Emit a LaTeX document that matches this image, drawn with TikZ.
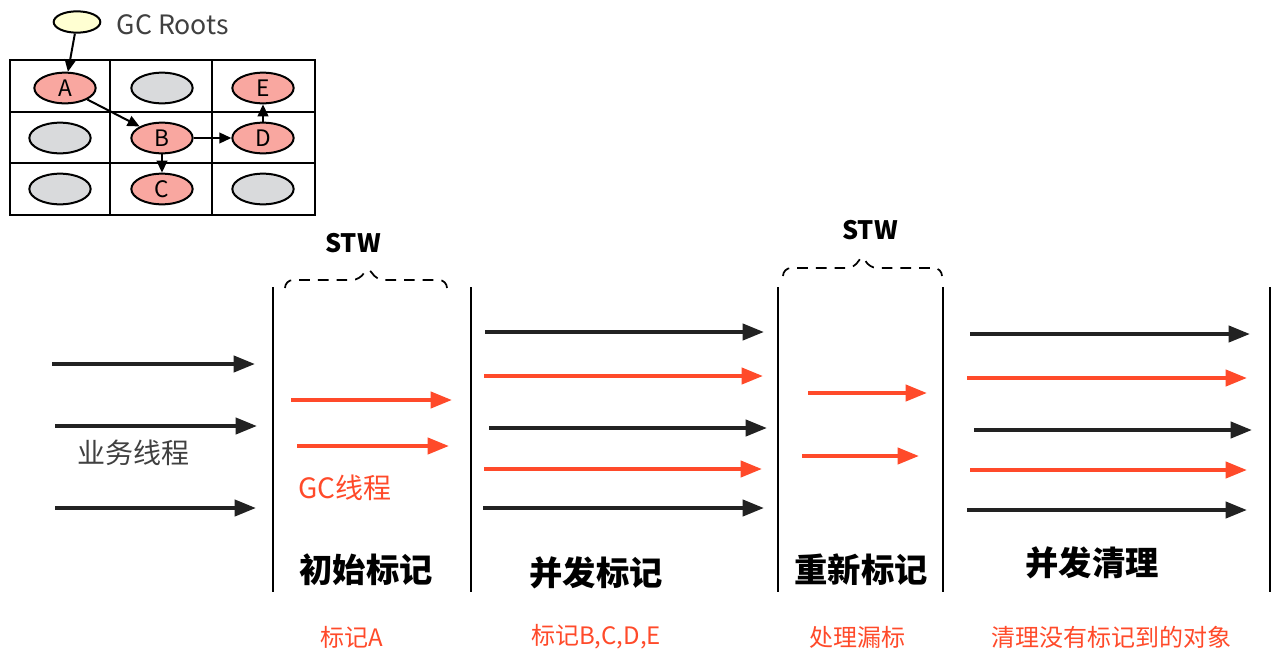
\documentclass[tikz,border=0pt]{standalone}
\usepackage{fontspec}
\setmainfont{Noto Sans CJK SC}
\usetikzlibrary{arrows.meta,shapes.geometric}
\definecolor{gc red}{HTML}{FF4A2A}
\definecolor{work black}{HTML}{222222}
\definecolor{obj red}{HTML}{F9A7A0}
\definecolor{obj gray}{HTML}{D9DADC}
\definecolor{root yellow}{HTML}{FFFFD2}
\tikzset{
    x={0.75pt},
    y={-0.75pt},
    object/.style={
        ellipse, draw=black, line width={1.5pt},
        minimum width={46pt}, minimum height={23pt},
        inner sep=0pt, font={\fontsize{17}{17}\selectfont},
    },
    live object/.style={object, fill=obj red},
    dead object/.style={object, fill=obj gray},
    ref/.style={draw=black, line width={1.5pt}, -{Triangle[length=9pt,width=8pt]}},
    thread/.style={
        draw={#1},
        line width={3pt},
        -{Triangle[length=16pt,width=12pt]},
    },
    phase border/.style={draw=black, line width={1.5pt}},
    pause brace/.style={draw=black, line width={1.3pt}, dash pattern=on 8pt off 6pt, rounded corners=6pt},
    phase title/.style={font={\fontsize{25}{25}\selectfont\bfseries}},
    phase note/.style={text=gc red, font={\fontsize{18}{18}\selectfont}},
}
\begin{document}
\begin{tikzpicture}
\useasboundingbox (0,0) rectangle (1280,661);
% heap
\draw[line width={1.6pt}] (10,60) rectangle (315,215);
\draw[line width={1.6pt}] (110,60) -- (110,215) (212,60) -- (212,215) (10,112) -- (315,112) (10,163) -- (315,163);
\node[object, fill=root yellow, minimum width={35pt}, minimum height={16pt}] (root) at (77,22) {};
\node[anchor=west, font={\fontsize{20}{20}\selectfont}, text=black!75] (rootlabel) at (112,25) {GC Roots};
\node[live object] (A) at (65,88) {A};
\node[dead object] (g1) at (162,88) {};
\node[live object] (E) at (263,88) {E};
\node[dead object] (g2) at (60,138) {};
\node[live object] (B) at (162,138) {B};
\node[live object] (D) at (263,138) {D};
\node[dead object] (g3) at (60,189) {};
\node[live object] (C) at (162,189) {C};
\node[dead object] (g4) at (263,189) {};
\draw[ref] (root) -- (A);
\draw[ref] (A) -- (B);
\draw[ref] (B) -- (C);
\draw[ref] (B) -- (D);
\draw[ref] (D) -- (E);
% phases
\foreach \name/\x in {p1/273, p2/471, p3/778, p4/943, p5/1270} {
    \coordinate (\name top) at (\x,287);
    \coordinate (\name bottom) at (\x,592);
    \path[phase border] (\name top) -- (\name bottom);
}
% pauses
\draw[pause brace] (285,288) -- (285,280) -- (360,280) -- (368,266) -- (376,280) -- (447,280) -- (447,288);
\draw[pause brace] (783,276) -- (783,268) -- (855,268) -- (862,254) -- (869,268) -- (942,268) -- (942,276);
\node[font={\fontsize{19}{19}\selectfont\bfseries}] (stw1) at (353,243) {STW};
\node[font={\fontsize{19}{19}\selectfont\bfseries}] (stw2) at (870,230) {STW};
% threads
\foreach \i/\xa/\xb/\y/\c in {
    a/52/255/364/work black, b/55/257/426/work black, c/55/256/508/work black,
    d/291/452/400/gc red, e/297/449/446/gc red,
    f/485/764/332/work black, g/484/763/376/gc red, h/489/767/428/work black, i/484/762/469/gc red, j/483/764/508/work black,
    k/808/927/393/gc red, l/802/919/456/gc red,
    m/970/1250/334/work black, n/967/1247/378/gc red, o/974/1252/430/work black, p/970/1247/470/gc red, q/967/1247/510/work black} {
    \coordinate (t\i s) at (\xa,\y);
    \coordinate (t\i e) at (\xb,\y);
    \draw[thread=\c] (t\i s) -- (t\i e);
}
% labels
\node[font={\fontsize{21}{21}\selectfont}, text=black!75] (worklabel) at (133,453) {业务线程};
\node[font={\fontsize{21}{21}\selectfont}, text=gc red] (gclabel) at (345,488) {GC线程};
\node[phase title] (t1) at (366,570) {初始标记};
\node[phase title] (t2) at (596,573) {并发标记};
\node[phase title] (t3) at (861,570) {重新标记};
\node[phase title] (t4) at (1092,563) {并发清理};
\node[phase note] (n1) at (352,637) {标记A};
\node[phase note] (n2) at (596,637) {标记B,C,D,E};
\node[phase note] (n3) at (857,637) {处理漏标};
\node[phase note] (n4) at (1111,637) {清理没有标记到的对象};
\end{tikzpicture}
\end{document}
